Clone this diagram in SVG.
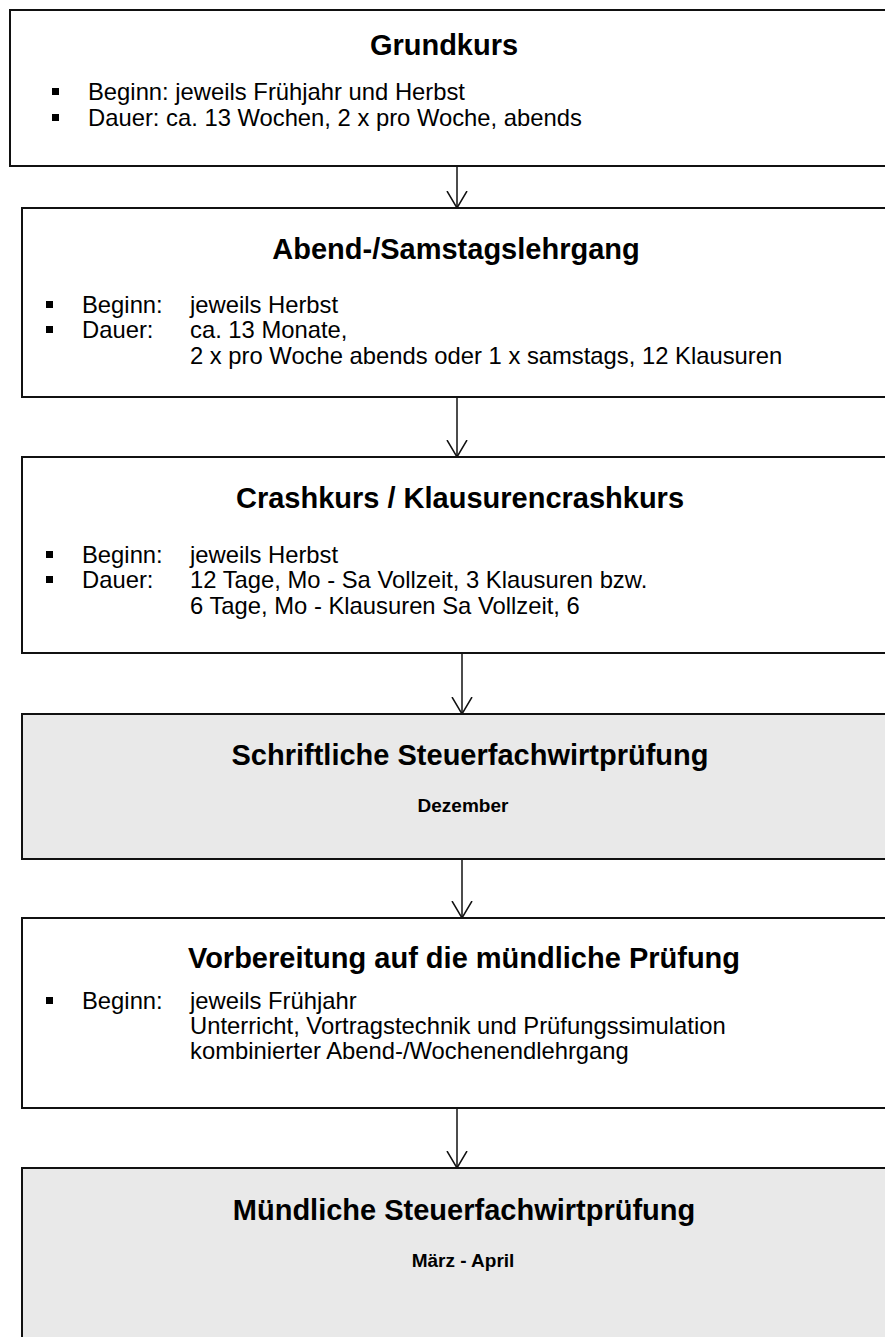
<svg xmlns="http://www.w3.org/2000/svg" width="885" height="1337" viewBox="0 0 885 1337">
<style>
.box{fill:#fff;stroke:#111;stroke-width:2}
.gray{fill:#e9e9e9;stroke:#111;stroke-width:2}
.t{font-family:"Liberation Sans",Arial,sans-serif;font-weight:bold;font-size:29px;fill:#000;text-anchor:middle}
.s{font-family:"Liberation Sans",Arial,sans-serif;font-weight:bold;font-size:19px;fill:#000;text-anchor:middle}
.b{font-family:"Liberation Sans",Arial,sans-serif;font-size:23.8px;fill:#000}
.bul{fill:#000}
.c{stroke:#111;stroke-width:1.5;fill:none}
</style>
<defs>
<marker id="ah" viewBox="0 0 18 22" refX="17" refY="11" markerWidth="18" markerHeight="22" markerUnits="userSpaceOnUse" orient="auto">
<path d="M0,1 L17,11 L0,21" fill="none" stroke="#111" stroke-width="1.5"/>
</marker>
</defs>
<g id="connectors">
<line class="c" x1="457" y1="166" x2="457" y2="208" marker-end="url(#ah)"/>
<line class="c" x1="457" y1="397" x2="457" y2="457" marker-end="url(#ah)"/>
<line class="c" x1="462" y1="653" x2="462" y2="714" marker-end="url(#ah)"/>
<line class="c" x1="462" y1="859" x2="462" y2="918" marker-end="url(#ah)"/>
<line class="c" x1="457" y1="1108" x2="457" y2="1168" marker-end="url(#ah)"/>
</g>
<g id="grundkurs">
<rect class="box" x="10" y="10" width="890" height="156"/>
<text class="t" x="444" y="55">Grundkurs</text>
<rect class="bul" x="52" y="88" width="7" height="7"/>
<rect class="bul" x="52" y="114" width="7" height="7"/>
<text class="b" x="88" y="100">Beginn: jeweils Frühjahr und Herbst</text>
<text class="b" x="88" y="126">Dauer: ca. 13 Wochen, 2 x pro Woche, abends</text>
</g>
<g id="abendlehrgang">
<rect class="box" x="22" y="208" width="900" height="189"/>
<text class="t" x="456" y="259">Abend-/Samstagslehrgang</text>
<rect class="bul" x="46" y="301" width="7" height="7"/>
<rect class="bul" x="46" y="326" width="7" height="7"/>
<text class="b" x="82" y="313">Beginn:</text>
<text class="b" x="190" y="313">jeweils Herbst</text>
<text class="b" x="82" y="338">Dauer:</text>
<text class="b" x="190" y="338">ca. 13 Monate,</text>
<text class="b" x="190" y="364">2 x pro Woche abends oder 1 x samstags, 12 Klausuren</text>
</g>
<g id="crashkurs">
<rect class="box" x="22" y="457" width="900" height="196"/>
<text class="t" x="460" y="508">Crashkurs / Klausurencrashkurs</text>
<rect class="bul" x="46" y="551" width="7" height="7"/>
<rect class="bul" x="46" y="576" width="7" height="7"/>
<text class="b" x="82" y="563">Beginn:</text>
<text class="b" x="190" y="563">jeweils Herbst</text>
<text class="b" x="82" y="588">Dauer:</text>
<text class="b" x="190" y="588">12 Tage, Mo - Sa Vollzeit, 3 Klausuren bzw.</text>
<text class="b" x="190" y="614">6 Tage, Mo - Klausuren Sa Vollzeit, 6</text>
</g>
<g id="schriftlich">
<rect class="gray" x="22" y="714" width="900" height="145"/>
<text class="t" x="470" y="765">Schriftliche Steuerfachwirtprüfung</text>
<text class="s" x="463" y="812">Dezember</text>
</g>
<g id="vorbereitung">
<rect class="box" x="22" y="918" width="900" height="190"/>
<text class="t" x="464" y="968">Vorbereitung auf die mündliche Prüfung</text>
<rect class="bul" x="46" y="997" width="7" height="7"/>
<text class="b" x="82" y="1009">Beginn:</text>
<text class="b" x="190" y="1009">jeweils Frühjahr</text>
<text class="b" x="190" y="1034">Unterricht, Vortragstechnik und Prüfungssimulation</text>
<text class="b" x="190" y="1059">kombinierter Abend-/Wochenendlehrgang</text>
</g>
<g id="muendlich">
<rect class="gray" x="22" y="1168" width="900" height="200"/>
<text class="t" x="464" y="1220">Mündliche Steuerfachwirtprüfung</text>
<text class="s" x="463" y="1267">März - April</text>
</g>
</svg>
